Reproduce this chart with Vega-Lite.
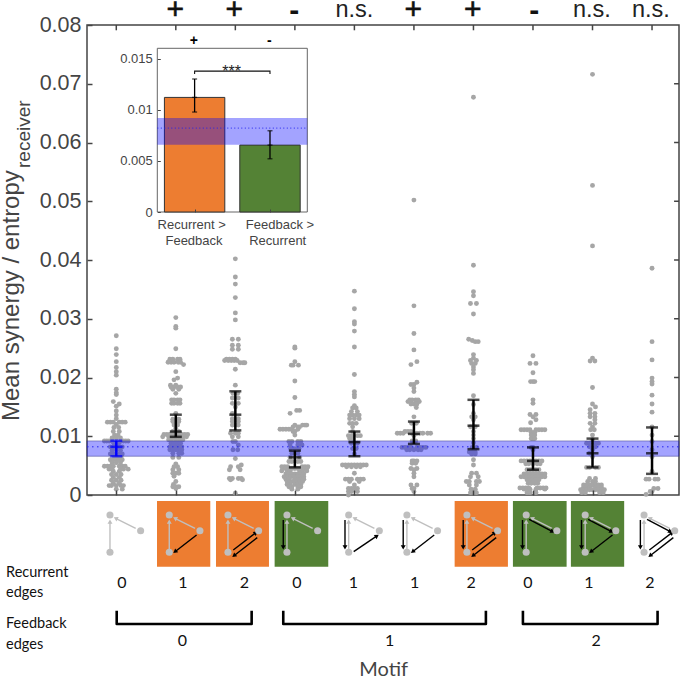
{"$schema":"https://vega.github.io/schema/vega-lite/v6.json","width":592,"height":470,"autosize":{"type":"none"},"padding":{"left":87,"top":25,"right":5,"bottom":185},"background":"white","config":{"view":{"stroke":"#444444","strokeWidth":1.5},"axis":{"grid":false}},
"datasets":{
"dots":[
{"x":1,"v":0.0271},{"x":1,"v":0.0249},{"x":1,"v":0.0239},{"x":1,"v":0.0227},{"x":1,"v":0.0217},{"x":1,"v":0.021},{"x":1,"v":0.0204},{"x":1,"v":0.018},{"x":1,"v":0.0174},{"x":1,"v":0.0171},{"x":0.95,"v":0.0159},{"x":1.05,"v":0.0155},{"x":1,"v":0.0151},{"x":1,"v":0.0143},{"x":1,"v":0.0136},{"x":1,"v":0.013},{"x":0.85,"v":0.0124},{"x":0.9,"v":0.0124},{"x":0.95,"v":0.0124},{"x":1.05,"v":0.0124},{"x":1.1,"v":0.0124},{"x":1.15,"v":0.0124},{"x":1,"v":0.012},{"x":0.96,"v":0.0115},{"x":1.04,"v":0.0115},{"x":0.95,"v":0.0108},{"x":1.05,"v":0.0108},{"x":0.97,"v":0.0102},{"x":1.03,"v":0.0102},{"x":0.93,"v":0.0097},{"x":1,"v":0.0097},{"x":1.07,"v":0.0097},{"x":0.8,"v":0.0092},{"x":0.84,"v":0.0092},{"x":0.88,"v":0.0092},{"x":0.92,"v":0.0092},{"x":1.08,"v":0.0092},{"x":1.12,"v":0.0092},{"x":1.16,"v":0.0092},{"x":1.2,"v":0.0092},{"x":0.96,"v":0.0088},{"x":1.04,"v":0.0088},{"x":0.9,"v":0.0082},{"x":0.95,"v":0.0082},{"x":1,"v":0.0082},{"x":1.05,"v":0.0082},{"x":1.1,"v":0.0082},{"x":0.93,"v":0.0076},{"x":1,"v":0.0076},{"x":1.07,"v":0.0076},{"x":0.9,"v":0.007},{"x":0.95,"v":0.007},{"x":1.05,"v":0.007},{"x":1.1,"v":0.007},{"x":0.97,"v":0.0065},{"x":1.03,"v":0.0065},{"x":1.08,"v":0.0065},{"x":0.9,"v":0.006},{"x":0.95,"v":0.006},{"x":1,"v":0.006},{"x":1.05,"v":0.006},{"x":1.1,"v":0.006},{"x":0.93,"v":0.0055},{"x":1,"v":0.0055},{"x":1.07,"v":0.0055},{"x":0.8,"v":0.0049},{"x":0.85,"v":0.0049},{"x":0.9,"v":0.0049},{"x":0.95,"v":0.0049},{"x":1.05,"v":0.0049},{"x":1.1,"v":0.0049},{"x":1.15,"v":0.0049},{"x":1.2,"v":0.0044},{"x":0.88,"v":0.0044},{"x":0.93,"v":0.0044},{"x":1.07,"v":0.0044},{"x":1.12,"v":0.0044},{"x":0.95,"v":0.004},{"x":1.05,"v":0.004},{"x":0.92,"v":0.0035},{"x":1,"v":0.0035},{"x":1.08,"v":0.0035},{"x":0.95,"v":0.003},{"x":1.05,"v":0.003},{"x":0.92,"v":0.0025},{"x":1,"v":0.0025},{"x":1.08,"v":0.0025},{"x":0.95,"v":0.002},{"x":1.05,"v":0.002},{"x":0.88,"v":0.0016},{"x":0.92,"v":0.0016},{"x":1,"v":0.0016},{"x":1.08,"v":0.0016},{"x":1.12,"v":0.0016},{"x":1,"v":0.001},{"x":1.1,"v":0.001},
{"x":2,"v":0.0302},{"x":2,"v":0.0287},{"x":2,"v":0.0284},{"x":2,"v":0.0249},{"x":1.9,"v":0.0231},{"x":1.95,"v":0.0231},{"x":2.03,"v":0.0231},{"x":2.07,"v":0.0231},{"x":1.87,"v":0.0226},{"x":1.92,"v":0.0226},{"x":1.97,"v":0.0226},{"x":2.04,"v":0.0226},{"x":2.08,"v":0.0226},{"x":2.13,"v":0.0222},{"x":2,"v":0.021},{"x":2.03,"v":0.0199},{"x":1.97,"v":0.0196},{"x":1.91,"v":0.0187},{"x":2,"v":0.0187},{"x":1.92,"v":0.0184},{"x":1.97,"v":0.0184},{"x":2.03,"v":0.0184},{"x":2.08,"v":0.0184},{"x":1.95,"v":0.018},{"x":2.05,"v":0.018},{"x":2,"v":0.0173},{"x":1.93,"v":0.0162},{"x":1.97,"v":0.0162},{"x":2.03,"v":0.0162},{"x":2.07,"v":0.0162},{"x":1.93,"v":0.0156},{"x":1.97,"v":0.0156},{"x":2.03,"v":0.0156},{"x":2.07,"v":0.0156},{"x":2,"v":0.0139},{"x":1.95,"v":0.0129},{"x":2.05,"v":0.0129},{"x":1.95,"v":0.0125},{"x":2,"v":0.0125},{"x":2.05,"v":0.0125},{"x":1.97,"v":0.0119},{"x":2.03,"v":0.0119},{"x":2,"v":0.0113},{"x":1.95,"v":0.0108},{"x":2.05,"v":0.0108},{"x":1.8,"v":0.0103},{"x":1.85,"v":0.0103},{"x":1.9,"v":0.0103},{"x":1.95,"v":0.0103},{"x":2,"v":0.0103},{"x":2.05,"v":0.0103},{"x":2.1,"v":0.0103},{"x":2.15,"v":0.0103},{"x":2.2,"v":0.0103},{"x":1.78,"v":0.0099},{"x":1.88,"v":0.0099},{"x":1.94,"v":0.0099},{"x":2,"v":0.0099},{"x":2.06,"v":0.0099},{"x":2.12,"v":0.0099},{"x":2.18,"v":0.0099},{"x":1.88,"v":0.0094},{"x":1.93,"v":0.0094},{"x":2,"v":0.0094},{"x":2.07,"v":0.0094},{"x":2.12,"v":0.0094},{"x":1.92,"v":0.0088},{"x":1.97,"v":0.0088},{"x":2.03,"v":0.0088},{"x":2.08,"v":0.0088},{"x":1.9,"v":0.0082},{"x":1.95,"v":0.0082},{"x":2,"v":0.0082},{"x":2.05,"v":0.0082},{"x":2.1,"v":0.0082},{"x":1.9,"v":0.0077},{"x":1.95,"v":0.0077},{"x":2,"v":0.0077},{"x":2.05,"v":0.0077},{"x":2.1,"v":0.0077},{"x":1.95,"v":0.0071},{"x":2.05,"v":0.0071},{"x":2.1,"v":0.0071},{"x":1.95,"v":0.0064},{"x":2.05,"v":0.0064},{"x":2,"v":0.0053},{"x":1.97,"v":0.0048},{"x":2.03,"v":0.0048},{"x":1.95,"v":0.0043},{"x":2.05,"v":0.0043},{"x":1.95,"v":0.0037},{"x":2,"v":0.0037},{"x":2.05,"v":0.0037},{"x":1.97,"v":0.0032},{"x":2,"v":0.0023},{"x":1.96,"v":0.0018},{"x":1.95,"v":0.0014},{"x":2,"v":0.0014},{"x":2.05,"v":0.0014},{"x":2,"v":0.0011},
{"x":3,"v":0.0402},{"x":3,"v":0.0371},{"x":3,"v":0.0359},{"x":3,"v":0.0336},{"x":3,"v":0.031},{"x":3,"v":0.0298},{"x":2.95,"v":0.0265},{"x":3.05,"v":0.0265},{"x":2.95,"v":0.0255},{"x":3.05,"v":0.0255},{"x":2.95,"v":0.0248},{"x":3.05,"v":0.0248},{"x":2.85,"v":0.0231},{"x":2.9,"v":0.0231},{"x":2.95,"v":0.0231},{"x":3,"v":0.0231},{"x":2.82,"v":0.0229},{"x":2.88,"v":0.0229},{"x":2.93,"v":0.0229},{"x":2.98,"v":0.0229},{"x":3.03,"v":0.0229},{"x":3.08,"v":0.0225},{"x":3.13,"v":0.0225},{"x":3.16,"v":0.0225},{"x":3,"v":0.0214},{"x":3,"v":0.0187},{"x":2.96,"v":0.0173},{"x":3.04,"v":0.0173},{"x":2.95,"v":0.0165},{"x":3.05,"v":0.0165},{"x":2.95,"v":0.0156},{"x":3.05,"v":0.0156},{"x":3,"v":0.015},{"x":2.95,"v":0.0139},{"x":2.95,"v":0.013},{"x":3.05,"v":0.013},{"x":2.95,"v":0.0125},{"x":3.05,"v":0.0125},{"x":2.95,"v":0.0119},{"x":3,"v":0.0119},{"x":3.05,"v":0.0119},{"x":2.92,"v":0.0105},{"x":3,"v":0.0105},{"x":3.05,"v":0.0105},{"x":2.95,"v":0.0099},{"x":3.05,"v":0.0099},{"x":2.96,"v":0.0091},{"x":3,"v":0.0091},{"x":3.05,"v":0.0085},{"x":2.96,"v":0.0077},{"x":3.04,"v":0.0077},{"x":3,"v":0.0062},{"x":3.1,"v":0.0051},{"x":2.92,"v":0.0048},{"x":3.05,"v":0.0048},{"x":2.9,"v":0.0043},{"x":3.08,"v":0.0043},{"x":2.9,"v":0.0028},{"x":2.95,"v":0.0028},{"x":3.05,"v":0.0028},{"x":3.1,"v":0.0028},{"x":2.92,"v":0.0026},{"x":3.12,"v":0.0026},{"x":3,"v":0.0003},
{"x":4,"v":0.0252},{"x":4,"v":0.025},{"x":4,"v":0.0227},{"x":3.94,"v":0.0221},{"x":3.97,"v":0.0221},{"x":4.06,"v":0.0221},{"x":4,"v":0.0194},{"x":4,"v":0.0166},{"x":4.03,"v":0.0144},{"x":4.08,"v":0.0144},{"x":3.92,"v":0.0139},{"x":4,"v":0.0119},{"x":4.13,"v":0.0119},{"x":4.17,"v":0.0119},{"x":4.2,"v":0.0119},{"x":3.97,"v":0.0116},{"x":4.05,"v":0.0116},{"x":4.08,"v":0.0116},{"x":3.75,"v":0.0112},{"x":3.8,"v":0.0112},{"x":3.85,"v":0.0112},{"x":3.9,"v":0.0112},{"x":3.95,"v":0.0112},{"x":4.05,"v":0.0112},{"x":3.97,"v":0.0108},{"x":4,"v":0.0108},{"x":4,"v":0.0102},{"x":3.9,"v":0.0091},{"x":3.95,"v":0.0091},{"x":4.05,"v":0.0091},{"x":4.1,"v":0.0091},{"x":3.92,"v":0.0085},{"x":4.05,"v":0.0085},{"x":4.12,"v":0.0085},{"x":3.93,"v":0.0079},{"x":4,"v":0.0079},{"x":4.07,"v":0.0079},{"x":3.95,"v":0.0071},{"x":4.05,"v":0.0071},{"x":3.92,"v":0.0064},{"x":4.08,"v":0.0064},{"x":3.9,"v":0.0057},{"x":3.95,"v":0.0057},{"x":4.05,"v":0.0057},{"x":4.1,"v":0.0057},{"x":3.78,"v":0.0048},{"x":3.83,"v":0.0048},{"x":3.88,"v":0.0048},{"x":4.12,"v":0.0048},{"x":4.17,"v":0.0048},{"x":4.22,"v":0.0048},{"x":3.8,"v":0.0045},{"x":3.85,"v":0.0045},{"x":3.9,"v":0.0045},{"x":3.95,"v":0.0045},{"x":4,"v":0.0045},{"x":4.05,"v":0.0045},{"x":4.1,"v":0.0045},{"x":4.15,"v":0.0045},{"x":4.2,"v":0.0045},{"x":3.78,"v":0.0041},{"x":3.87,"v":0.0041},{"x":3.92,"v":0.0041},{"x":4.08,"v":0.0041},{"x":4.13,"v":0.0041},{"x":4.2,"v":0.0041},{"x":3.85,"v":0.0036},{"x":3.9,"v":0.0036},{"x":3.95,"v":0.0036},{"x":4,"v":0.0036},{"x":4.05,"v":0.0036},{"x":4.1,"v":0.0036},{"x":4.15,"v":0.0036},{"x":3.82,"v":0.0031},{"x":3.87,"v":0.0031},{"x":3.93,"v":0.0031},{"x":3.98,"v":0.0031},{"x":4.05,"v":0.0031},{"x":4.1,"v":0.0031},{"x":4.15,"v":0.0031},{"x":3.85,"v":0.0027},{"x":3.9,"v":0.0027},{"x":4,"v":0.0027},{"x":4.05,"v":0.0027},{"x":4.1,"v":0.0027},{"x":4.15,"v":0.0027},{"x":3.87,"v":0.0023},{"x":3.92,"v":0.0023},{"x":3.97,"v":0.0023},{"x":4.03,"v":0.0023},{"x":4.08,"v":0.0023},{"x":4.13,"v":0.0023},{"x":3.87,"v":0.0018},{"x":3.92,"v":0.0018},{"x":4,"v":0.0018},{"x":4.05,"v":0.0018},{"x":4.1,"v":0.0018},{"x":3.9,"v":0.0014},{"x":3.95,"v":0.0014},{"x":4.05,"v":0.0014},{"x":4.1,"v":0.0014},{"x":3.95,"v":0.001},{"x":4.05,"v":0.001},
{"x":5,"v":0.0347},{"x":5,"v":0.0317},{"x":5,"v":0.0295},{"x":5,"v":0.0291},{"x":5,"v":0.0279},{"x":5,"v":0.0252},{"x":5,"v":0.0205},{"x":5,"v":0.0176},{"x":5,"v":0.0171},{"x":5,"v":0.0167},{"x":5,"v":0.0152},{"x":4.97,"v":0.0148},{"x":5.03,"v":0.0148},{"x":4.95,"v":0.0142},{"x":5.05,"v":0.0142},{"x":4.92,"v":0.0136},{"x":4.97,"v":0.0136},{"x":5.03,"v":0.0136},{"x":5.08,"v":0.0136},{"x":4.92,"v":0.013},{"x":5,"v":0.013},{"x":5.08,"v":0.013},{"x":4.92,"v":0.0122},{"x":4.97,"v":0.0122},{"x":5.03,"v":0.0122},{"x":4.97,"v":0.0116},{"x":4.97,"v":0.0108},{"x":4.9,"v":0.0101},{"x":4.95,"v":0.0101},{"x":5.05,"v":0.0101},{"x":5.1,"v":0.0101},{"x":4.92,"v":0.0096},{"x":4.97,"v":0.0096},{"x":4.95,"v":0.0088},{"x":5.05,"v":0.0088},{"x":4.97,"v":0.0079},{"x":5.03,"v":0.0079},{"x":5,"v":0.007},{"x":4.8,"v":0.0051},{"x":4.85,"v":0.0051},{"x":4.9,"v":0.0051},{"x":4.95,"v":0.0051},{"x":5,"v":0.0051},{"x":5.05,"v":0.0051},{"x":5.1,"v":0.0051},{"x":5.15,"v":0.0051},{"x":5.2,"v":0.0051},{"x":4.87,"v":0.0048},{"x":4.95,"v":0.0048},{"x":5.03,"v":0.0048},{"x":5.1,"v":0.0048},{"x":5,"v":0.0037},{"x":4.85,"v":0.0027},{"x":4.9,"v":0.0027},{"x":4.95,"v":0.0027},{"x":5.05,"v":0.0027},{"x":5.1,"v":0.0027},{"x":5.15,"v":0.0027},{"x":4.92,"v":0.0023},{"x":5.08,"v":0.0023},{"x":5,"v":0.0017},{"x":4.9,"v":0.0011},{"x":4.95,"v":0.0011},{"x":5,"v":0.0011},{"x":5.05,"v":0.0011},{"x":4.9,"v":0.0006},{"x":4.95,"v":0.0006},{"x":5.05,"v":0.0006},{"x":4.9,"v":0},
{"x":6,"v":0.0502},{"x":6,"v":0.0322},{"x":6,"v":0.0275},{"x":6,"v":0.0247},{"x":6.05,"v":0.0227},{"x":5.95,"v":0.0222},{"x":6.05,"v":0.0192},{"x":5.95,"v":0.0188},{"x":6,"v":0.0188},{"x":6,"v":0.0182},{"x":6,"v":0.0176},{"x":5.93,"v":0.0162},{"x":5.97,"v":0.0162},{"x":6.03,"v":0.0162},{"x":6.07,"v":0.0162},{"x":5.9,"v":0.0159},{"x":5.94,"v":0.0159},{"x":6.04,"v":0.0159},{"x":6.09,"v":0.0159},{"x":5.95,"v":0.0155},{"x":6,"v":0.0155},{"x":6.05,"v":0.0155},{"x":6.04,"v":0.0149},{"x":6,"v":0.0133},{"x":5.96,"v":0.0122},{"x":6.04,"v":0.0122},{"x":5.85,"v":0.0108},{"x":5.9,"v":0.0108},{"x":5.95,"v":0.0108},{"x":5.72,"v":0.0105},{"x":5.77,"v":0.0105},{"x":5.82,"v":0.0105},{"x":5.97,"v":0.0105},{"x":6.05,"v":0.0105},{"x":6.1,"v":0.0105},{"x":6.15,"v":0.0105},{"x":6.23,"v":0.0105},{"x":6.28,"v":0.0105},{"x":6,"v":0.0101},{"x":5.97,"v":0.0092},{"x":6,"v":0.0092},{"x":6.03,"v":0.0092},{"x":5.8,"v":0.0081},{"x":5.85,"v":0.0081},{"x":5.9,"v":0.0081},{"x":5.95,"v":0.0081},{"x":6.05,"v":0.0081},{"x":6.1,"v":0.0081},{"x":6.15,"v":0.0081},{"x":6.2,"v":0.0081},{"x":5.88,"v":0.0077},{"x":5.93,"v":0.0077},{"x":6,"v":0.0077},{"x":6.07,"v":0.0077},{"x":6.12,"v":0.0077},{"x":5.97,"v":0.0058},{"x":6,"v":0.0058},{"x":6.05,"v":0.0058},{"x":5.97,"v":0.0054},{"x":6.03,"v":0.0054},{"x":5.95,"v":0.0045},{"x":6.05,"v":0.0045},{"x":6,"v":0.0043},{"x":6,"v":0.0037},{"x":6,"v":0.0031},{"x":5.95,"v":0.0017},{"x":6.05,"v":0.0017},{"x":5.97,"v":0.0011},{"x":6,"v":0.0011},{"x":6,"v":0.0006},
{"x":7,"v":0.0677},{"x":7,"v":0.0391},{"x":7,"v":0.0346},{"x":7,"v":0.0339},{"x":6.95,"v":0.0326},{"x":7.05,"v":0.0326},{"x":7,"v":0.0308},{"x":6.92,"v":0.0265},{"x":6.98,"v":0.0263},{"x":7.03,"v":0.0261},{"x":7.08,"v":0.0261},{"x":7,"v":0.0239},{"x":7,"v":0.0233},{"x":6.95,"v":0.0229},{"x":7.05,"v":0.0229},{"x":6.97,"v":0.0224},{"x":7.03,"v":0.0224},{"x":7,"v":0.0218},{"x":7,"v":0.0213},{"x":7,"v":0.0207},{"x":7,"v":0.0169},{"x":7,"v":0.0154},{"x":7,"v":0.0139},{"x":6.97,"v":0.0133},{"x":7.03,"v":0.0133},{"x":7,"v":0.0128},{"x":6.95,"v":0.0116},{"x":7.03,"v":0.0116},{"x":7,"v":0.0108},{"x":7,"v":0.0102},{"x":7,"v":0.0096},{"x":7,"v":0.0089},{"x":6.98,"v":0.0081},{"x":7.05,"v":0.0081},{"x":6.93,"v":0.0073},{"x":6.98,"v":0.0073},{"x":7.03,"v":0.0073},{"x":6.97,"v":0.007},{"x":7.03,"v":0.007},{"x":7,"v":0.006},{"x":7,"v":0.0051},{"x":6.97,"v":0.0037},{"x":7.05,"v":0.0037},{"x":6.95,"v":0.0031},{"x":7.08,"v":0.0031},{"x":6.88,"v":0.0023},{"x":6.93,"v":0.0023},{"x":7.05,"v":0.0023},{"x":7.1,"v":0.0023},{"x":6.93,"v":0.0017},{"x":7.05,"v":0.0017},{"x":6.96,"v":0.001},{"x":7.03,"v":0.001},{"x":6.95,"v":0.0004},{"x":7,"v":0.0004},{"x":7.05,"v":0.0004},
{"x":8,"v":0.0237},{"x":7.95,"v":0.0224},{"x":8.05,"v":0.0224},{"x":8,"v":0.0208},{"x":7.96,"v":0.0193},{"x":8,"v":0.0193},{"x":8.03,"v":0.0193},{"x":8,"v":0.0162},{"x":8,"v":0.0156},{"x":7.95,"v":0.0137},{"x":8.05,"v":0.0137},{"x":8,"v":0.0133},{"x":8.05,"v":0.0128},{"x":7.96,"v":0.0123},{"x":7.8,"v":0.0111},{"x":7.85,"v":0.0111},{"x":7.9,"v":0.0111},{"x":7.95,"v":0.0111},{"x":8.05,"v":0.0111},{"x":8.1,"v":0.0111},{"x":8.15,"v":0.0111},{"x":8.2,"v":0.0111},{"x":7.97,"v":0.0107},{"x":8.03,"v":0.0107},{"x":7.97,"v":0.0102},{"x":8.03,"v":0.0102},{"x":7.97,"v":0.0096},{"x":8,"v":0.0096},{"x":8.03,"v":0.0096},{"x":7.97,"v":0.0081},{"x":8,"v":0.0081},{"x":8,"v":0.0077},{"x":7.8,"v":0.0058},{"x":7.85,"v":0.0058},{"x":7.9,"v":0.0058},{"x":7.95,"v":0.0058},{"x":8.05,"v":0.0058},{"x":8.1,"v":0.0058},{"x":8.15,"v":0.0058},{"x":7.88,"v":0.0053},{"x":7.93,"v":0.0053},{"x":8,"v":0.0053},{"x":8.07,"v":0.0053},{"x":8.12,"v":0.0053},{"x":7.9,"v":0.0043},{"x":7.95,"v":0.0043},{"x":8,"v":0.0043},{"x":8.05,"v":0.0043},{"x":8.1,"v":0.0043},{"x":7.85,"v":0.0036},{"x":7.9,"v":0.0036},{"x":7.95,"v":0.0036},{"x":8,"v":0.0036},{"x":8.05,"v":0.0036},{"x":8.1,"v":0.0036},{"x":8.15,"v":0.0036},{"x":8.2,"v":0.0036},{"x":7.8,"v":0.0031},{"x":7.85,"v":0.0031},{"x":7.9,"v":0.0031},{"x":7.95,"v":0.0031},{"x":8,"v":0.0031},{"x":8.05,"v":0.0031},{"x":8.1,"v":0.0031},{"x":8.15,"v":0.0031},{"x":8.2,"v":0.0031},{"x":7.9,"v":0.0026},{"x":7.95,"v":0.0026},{"x":8,"v":0.0026},{"x":8.05,"v":0.0026},{"x":8.1,"v":0.0026},{"x":7.92,"v":0.002},{"x":7.97,"v":0.002},{"x":8.03,"v":0.002},{"x":8.08,"v":0.002},{"x":7.78,"v":0.0012},{"x":7.83,"v":0.0012},{"x":7.88,"v":0.0012},{"x":7.93,"v":0.0012},{"x":8.07,"v":0.0012},{"x":8.12,"v":0.0012},{"x":8.17,"v":0.0012},{"x":8.22,"v":0.0012},{"x":7.85,"v":0.001},{"x":7.9,"v":0.001},{"x":7.95,"v":0.001},{"x":8.05,"v":0.001},{"x":8.2,"v":0.001},{"x":7.9,"v":0.0004},{"x":7.95,"v":0.0004},{"x":8.05,"v":0.0004},
{"x":9,"v":0.0716},{"x":9,"v":0.0527},{"x":9,"v":0.0424},{"x":9,"v":0.0233},{"x":8.96,"v":0.0228},{"x":9.04,"v":0.0228},{"x":9,"v":0.0183},{"x":9,"v":0.0155},{"x":9.05,"v":0.015},{"x":8.96,"v":0.0145},{"x":8.96,"v":0.0139},{"x":9.04,"v":0.0139},{"x":8.96,"v":0.0133},{"x":9.04,"v":0.0133},{"x":9.04,"v":0.0128},{"x":8.96,"v":0.0122},{"x":9.04,"v":0.0122},{"x":9,"v":0.0116},{"x":8.97,"v":0.0111},{"x":9.03,"v":0.0111},{"x":9,"v":0.0102},{"x":9,"v":0.0094},{"x":8.9,"v":0.0088},{"x":8.95,"v":0.0088},{"x":9.05,"v":0.0088},{"x":9.1,"v":0.0088},{"x":8.95,"v":0.0082},{"x":9.05,"v":0.0082},{"x":9,"v":0.0077},{"x":8.95,"v":0.0071},{"x":9,"v":0.0065},{"x":8.9,"v":0.0047},{"x":8.95,"v":0.0047},{"x":9.05,"v":0.0047},{"x":9.1,"v":0.0047},{"x":8.95,"v":0.0028},{"x":9.05,"v":0.0028},{"x":8.92,"v":0.0023},{"x":9,"v":0.0023},{"x":9.05,"v":0.0023},{"x":8.85,"v":0.0017},{"x":8.9,"v":0.0017},{"x":8.95,"v":0.0017},{"x":9,"v":0.0017},{"x":9.05,"v":0.0017},{"x":9.1,"v":0.0017},{"x":9.15,"v":0.0017},{"x":8.85,"v":0.0013},{"x":8.9,"v":0.0013},{"x":8.95,"v":0.0013},{"x":9.05,"v":0.0013},{"x":9.1,"v":0.0013},{"x":9.15,"v":0.0013},{"x":8.8,"v":0.0009},{"x":8.85,"v":0.0009},{"x":8.9,"v":0.0009},{"x":8.95,"v":0.0009},{"x":9,"v":0.0009},{"x":9.05,"v":0.0009},{"x":9.1,"v":0.0009},{"x":9.15,"v":0.0009},{"x":9.2,"v":0.0009},{"x":8.82,"v":0.0004},{"x":8.88,"v":0.0004},{"x":9.12,"v":0.0004},{"x":9.18,"v":0.0004},
{"x":10,"v":0.0386},{"x":10,"v":0.0261},{"x":10,"v":0.023},{"x":10,"v":0.0199},{"x":10,"v":0.0193},{"x":10,"v":0.0189},{"x":10,"v":0.017},{"x":10,"v":0.0155},{"x":10,"v":0.0141},{"x":10,"v":0.0116},{"x":10,"v":0.0102},{"x":10,"v":0.0091},{"x":10,"v":0.0077},{"x":10,"v":0.0065},{"x":10,"v":0.004},{"x":9.9,"v":0.0027},{"x":9.95,"v":0.0027},{"x":10.05,"v":0.0027},{"x":10.1,"v":0.0027},{"x":10.03,"v":0.0011},{"x":10.1,"v":0.0011},{"x":9.97,"v":0.0006},{"x":10,"v":0.0006},{"x":9.9,"v":0.0001}
],
"err":[{"x":1,"v":0.0082,"lo":0.0066,"hi":0.00925,"c":"baseline"},{"x":2,"v":0.0108,"lo":0.0099,"hi":0.01367,"c":"motif"},{"x":3,"v":0.01367,"lo":0.011,"hi":0.01765,"c":"motif"},{"x":4,"v":0.0064,"lo":0.0047,"hi":0.00755,"c":"motif"},{"x":5,"v":0.009,"lo":0.0066,"hi":0.0108,"c":"motif"},{"x":6,"v":0.0104,"lo":0.0087,"hi":0.0125,"c":"motif"},{"x":7,"v":0.0118,"lo":0.0078,"hi":0.0162,"c":"motif"},{"x":8,"v":0.0058,"lo":0.0043,"hi":0.0081,"c":"motif"},{"x":9,"v":0.0071,"lo":0.0047,"hi":0.0096,"c":"motif"},{"x":10,"v":0.0071,"lo":0.0036,"hi":0.0115,"c":"motif"}],
"band":[{"x":0.508,"x2":10.453,"v":0.0066,"v2":0.0092,"m":0.0082}],
"topTicks":[{"x":1,"v":0.0791,"v2":0.08},{"x":2,"v":0.0791,"v2":0.08},{"x":3,"v":0.0791,"v2":0.08},{"x":4,"v":0.0791,"v2":0.08},{"x":5,"v":0.0791,"v2":0.08},{"x":6,"v":0.0791,"v2":0.08},{"x":7,"v":0.0791,"v2":0.08},{"x":8,"v":0.0791,"v2":0.08},{"x":9,"v":0.0791,"v2":0.08},{"x":10,"v":0.0791,"v2":0.08}],
"rightTicks":[{"x":10.37,"x2":10.453,"v":0.01},{"x":10.37,"x2":10.453,"v":0.02},{"x":10.37,"x2":10.453,"v":0.03},{"x":10.37,"x2":10.453,"v":0.04},{"x":10.37,"x2":10.453,"v":0.05},{"x":10.37,"x2":10.453,"v":0.06},{"x":10.37,"x2":10.453,"v":0.07}],
"sigNs":[{"x":5,"v":0.0814,"t":"n.s."},{"x":8.99,"v":0.0814,"t":"n.s."},{"x":9.98,"v":0.0814,"t":"n.s."}],
"sigPlus":[{"x":1.99,"v":0.08097,"t":"+"},{"x":2.98,"v":0.08097,"t":"+"},{"x":5.99,"v":0.08097,"t":"+"},{"x":6.99,"v":0.08097,"t":"+"}],
"sigMinus":[{"x":3.99,"v":0.08079,"t":"-"},{"x":8.02,"v":0.08079,"t":"-"}],
"tiles":[{"x":1.684,"x2":2.579,"v":-0.00102,"v2":-0.0122,"c":"recurrent"},{"x":2.675,"x2":3.565,"v":-0.00102,"v2":-0.0122,"c":"recurrent"},{"x":3.66,"x2":4.561,"v":-0.00102,"v2":-0.0122,"c":"feedback"},{"x":6.684,"x2":7.579,"v":-0.00102,"v2":-0.0122,"c":"recurrent"},{"x":7.663,"x2":8.565,"v":-0.00102,"v2":-0.0122,"c":"feedback"},{"x":8.637,"x2":9.532,"v":-0.00102,"v2":-0.0122,"c":"feedback"}],
"edgesGray":[
{"x":0.894,"x2":0.894,"v":-0.00919,"v2":-0.00454,"a":0},{"x":1.89,"x2":1.89,"v":-0.00919,"v2":-0.00454,"a":0},{"x":2.876,"x2":2.876,"v":-0.00919,"v2":-0.00454,"a":0},{"x":3.867,"x2":3.867,"v":-0.00919,"v2":-0.00454,"a":0},{"x":4.904,"x2":4.904,"v":-0.00919,"v2":-0.00454,"a":0},{"x":5.882,"x2":5.882,"v":-0.00919,"v2":-0.00454,"a":0},{"x":6.89,"x2":6.89,"v":-0.00919,"v2":-0.00454,"a":0},{"x":7.886,"x2":7.886,"v":-0.00919,"v2":-0.00454,"a":0},{"x":8.877,"x2":8.877,"v":-0.00919,"v2":-0.00454,"a":0},{"x":9.866,"x2":9.866,"v":-0.00919,"v2":-0.00454,"a":0},
{"x":1.326,"x2":0.99,"v":-0.00566,"v2":-0.00396,"a":297},{"x":2.322,"x2":1.986,"v":-0.00566,"v2":-0.00396,"a":297},{"x":3.308,"x2":2.972,"v":-0.00566,"v2":-0.00396,"a":297},{"x":4.299,"x2":3.963,"v":-0.00566,"v2":-0.00396,"a":297},{"x":5.336,"x2":5,"v":-0.00566,"v2":-0.00396,"a":297},{"x":6.314,"x2":5.978,"v":-0.00566,"v2":-0.00396,"a":297},{"x":7.322,"x2":6.986,"v":-0.00566,"v2":-0.00396,"a":297},{"x":8.318,"x2":7.982,"v":-0.00566,"v2":-0.00396,"a":297},{"x":9.309,"x2":8.973,"v":-0.00566,"v2":-0.00396,"a":297},{"x":10.298,"x2":9.962,"v":-0.00566,"v2":-0.00396,"a":297}],
"edgesBlack":[
{"x":3.805,"x2":3.805,"v":-0.00425,"v2":-0.0089,"a":180},{"x":4.842,"x2":4.842,"v":-0.00425,"v2":-0.0089,"a":180},{"x":5.82,"x2":5.82,"v":-0.00425,"v2":-0.0089,"a":180},{"x":6.828,"x2":6.828,"v":-0.00425,"v2":-0.0089,"a":180},{"x":7.824,"x2":7.824,"v":-0.00425,"v2":-0.0089,"a":180},{"x":8.815,"x2":8.815,"v":-0.00425,"v2":-0.0089,"a":180},{"x":9.804,"x2":9.804,"v":-0.00425,"v2":-0.0089,"a":180},
{"x":2.349,"x2":1.986,"v":-0.0068,"v2":-0.00965,"a":232},{"x":6.341,"x2":5.978,"v":-0.0068,"v2":-0.00965,"a":232},{"x":9.336,"x2":8.973,"v":-0.0068,"v2":-0.00965,"a":232},
{"x":4.988,"x2":5.379,"v":-0.00965,"v2":-0.00697,"a":56},
{"x":2.965,"x2":3.346,"v":-0.00936,"v2":-0.00641,"a":53},{"x":3.368,"x2":2.977,"v":-0.00726,"v2":-0.01033,"a":232},{"x":6.979,"x2":7.36,"v":-0.00936,"v2":-0.00641,"a":53},{"x":7.382,"x2":6.991,"v":-0.00726,"v2":-0.01033,"a":232},{"x":9.955,"x2":10.336,"v":-0.00936,"v2":-0.00641,"a":53},{"x":10.358,"x2":9.967,"v":-0.00726,"v2":-0.01033,"a":232},
{"x":7.936,"x2":8.328,"v":-0.00413,"v2":-0.00624,"a":118},{"x":8.927,"x2":9.319,"v":-0.00413,"v2":-0.00624,"a":118},{"x":9.916,"x2":10.308,"v":-0.00413,"v2":-0.00624,"a":118}],
"nodes":[
{"x":0.894,"v":-0.0034},{"x":0.894,"v":-0.00975},{"x":1.409,"v":-0.00608},{"x":1.89,"v":-0.0034},{"x":1.89,"v":-0.00975},{"x":2.405,"v":-0.00608},{"x":2.876,"v":-0.0034},{"x":2.876,"v":-0.00975},{"x":3.391,"v":-0.00608},{"x":3.867,"v":-0.0034},{"x":3.867,"v":-0.00975},{"x":4.382,"v":-0.00608},{"x":4.904,"v":-0.0034},{"x":4.904,"v":-0.00975},{"x":5.419,"v":-0.00608},{"x":5.882,"v":-0.0034},{"x":5.882,"v":-0.00975},{"x":6.397,"v":-0.00608},{"x":6.89,"v":-0.0034},{"x":6.89,"v":-0.00975},{"x":7.405,"v":-0.00608},{"x":7.886,"v":-0.0034},{"x":7.886,"v":-0.00975},{"x":8.401,"v":-0.00608},{"x":8.877,"v":-0.0034},{"x":8.877,"v":-0.00975},{"x":9.392,"v":-0.00608},{"x":9.866,"v":-0.0034},{"x":9.866,"v":-0.00975},{"x":10.381,"v":-0.00608}],
"recurrentCounts":[{"x":1.096,"v":-0.01492,"t":"0"},{"x":2.12,"v":-0.01492,"t":"1"},{"x":3.15,"v":-0.01492,"t":"2"},{"x":4.035,"v":-0.01492,"t":"0"},{"x":4.981,"v":-0.01492,"t":"1"},{"x":6.012,"v":-0.01492,"t":"1"},{"x":6.963,"v":-0.01492,"t":"2"},{"x":7.915,"v":-0.01492,"t":"0"},{"x":8.939,"v":-0.01492,"t":"1"},{"x":9.964,"v":-0.01492,"t":"2"}],
"feedbackCounts":[{"x":2.109,"v":-0.0248,"t":"0"},{"x":5.592,"v":-0.0248,"t":"1"},{"x":9.062,"v":-0.0248,"t":"2"}],
"rowLabels":[{"x":-0.852,"v":-0.01322,"t":"Recurrent"},{"x":-0.852,"v":-0.01673,"t":"edges"},{"x":-0.852,"v":-0.02201,"t":"Feedback"},{"x":-0.852,"v":-0.02553,"t":"edges"}],
"brackets":[{"b":0,"o":0,"x":1.007,"v":-0.01969},{"b":0,"o":1,"x":1.007,"v":-0.02196},{"b":0,"o":2,"x":3.274,"v":-0.02196},{"b":0,"o":3,"x":3.274,"v":-0.01969},{"b":1,"o":0,"x":3.805,"v":-0.01969},{"b":1,"o":1,"x":3.805,"v":-0.02196},{"b":1,"o":2,"x":7.209,"v":-0.02196},{"b":1,"o":3,"x":7.209,"v":-0.01969},{"b":2,"o":0,"x":7.831,"v":-0.01969},{"b":2,"o":1,"x":7.831,"v":-0.02196},{"b":2,"o":2,"x":10.093,"v":-0.02196},{"b":2,"o":3,"x":10.093,"v":-0.01969}],
"insetFrame":[{"p":0.505,"p2":2.495,"s":0,"s2":0.016}],
"insetBars":[{"p":1,"s":0.0112,"lo":0.00977,"hi":0.013,"c":"recurrent"},{"p":2,"s":0.00654,"lo":0.0052,"hi":0.00794,"c":"feedback"}],
"insetBand":[{"p":0.505,"p2":2.495,"s":0.00657,"s2":0.00918,"m":0.0082}],
"insetBracket":[{"o":0,"p":1,"s":0.0135},{"o":1,"p":1,"s":0.01377},{"o":2,"p":2,"s":0.01377},{"o":3,"p":2,"s":0.0135}],
"insetLabels":[{"p":0.962,"s":-0.00127,"t":"Recurrent >"},{"p":0.992,"s":-0.00283,"t":"Feedback"},{"p":2.133,"s":-0.00127,"t":"Feedback >"},{"p":2.102,"s":-0.00283,"t":"Recurrent"}],
"insetSigns":[{"p":0.99,"s":0.01673,"t":"+"},{"p":1.99,"s":0.01673,"t":"-"}]
},
"layer":[
{"encoding":{
"x":{"field":"x","type":"quantitative","scale":{"domain":[0.508,10.453],"nice":false,"zero":false},"axis":{"values":[1,2,3,4,5,6,7,8,9,10],"labels":false,"title":null,"tickSize":-5,"tickColor":"#444444","tickWidth":1.5,"domain":false,"zindex":1}},
"y":{"field":"v","type":"quantitative","scale":{"domain":[0,0.08],"nice":false,"zero":false},"axis":{"values":[0,0.01,0.02,0.03,0.04,0.05,0.06,0.07,0.08],"format":".2~f","title":null,"tickSize":-5,"tickColor":"#444444","tickWidth":1.5,"domain":false,"labelFont":"Liberation Sans","labelFontSize":21.5,"labelColor":"#444444","labelPadding":11,"zindex":1}}},
"layer":[
{"data":{"name":"dots"},"mark":{"type":"circle","size":24,"color":"#a6a6a6","opacity":1}},
{"data":{"name":"band"},"mark":{"type":"rect","color":"#0000ff","fillOpacity":0.36,"stroke":"#3c3c8c","strokeOpacity":0.5,"strokeWidth":1},"encoding":{"x2":{"field":"x2"},"y2":{"field":"v2"}}},
{"data":{"name":"band"},"mark":{"type":"rule","color":"#2222ee","strokeWidth":1,"strokeDash":[1.5,3.5]},"encoding":{"y":{"field":"m"},"x2":{"field":"x2"}}},
{"data":{"name":"err"},"mark":{"type":"rule","strokeWidth":2.5},"encoding":{"y":{"field":"lo"},"y2":{"field":"hi"},"color":{"field":"c","type":"nominal","legend":null,"scale":{"domain":["baseline","motif","recurrent","feedback"],"range":["#0000ff","#000000","#ed7d31","#548235"]}}}},
{"data":{"name":"err"},"mark":{"type":"tick","orient":"horizontal","size":12,"thickness":2.5},"encoding":{"y":{"field":"lo"},"color":{"field":"c","type":"nominal","legend":null}}},
{"data":{"name":"err"},"mark":{"type":"tick","orient":"horizontal","size":12,"thickness":2.5},"encoding":{"y":{"field":"hi"},"color":{"field":"c","type":"nominal","legend":null}}},
{"data":{"name":"err"},"mark":{"type":"tick","orient":"horizontal","size":12,"thickness":2.5},"encoding":{"color":{"field":"c","type":"nominal","legend":null}}},
{"data":{"name":"topTicks"},"mark":{"type":"rule","color":"#444444","strokeWidth":1.5},"encoding":{"y2":{"field":"v2"}}},
{"data":{"name":"rightTicks"},"mark":{"type":"rule","color":"#444444","strokeWidth":1.5},"encoding":{"x2":{"field":"x2"}}},
{"data":{"name":"sigNs"},"mark":{"type":"text","font":"Liberation Sans","fontSize":23.5,"color":"#222222","baseline":"alphabetic"},"encoding":{"text":{"field":"t"}}},
{"data":{"name":"sigPlus"},"mark":{"type":"text","font":"Liberation Sans","fontSize":30,"color":"#111111","stroke":"#111111","strokeWidth":0.6,"baseline":"alphabetic"},"encoding":{"text":{"field":"t"}}},
{"data":{"name":"sigMinus"},"mark":{"type":"text","font":"Liberation Sans","fontWeight":"bold","fontSize":30,"color":"#111111","baseline":"alphabetic"},"encoding":{"text":{"field":"t"}}},
{"data":{"values":[{"x":-0.642,"v":0.0126,"t":"Mean synergy / entropy"}]},"mark":{"type":"text","font":"Liberation Sans","fontSize":24,"color":"#444444","angle":270,"align":"left","baseline":"alphabetic"},"encoding":{"text":{"field":"t"}}},
{"data":{"values":[{"x":-0.45,"v":0.05566,"t":"receiver"}]},"mark":{"type":"text","font":"Liberation Sans","fontSize":19,"color":"#444444","angle":270,"align":"left","baseline":"alphabetic"},"encoding":{"text":{"field":"t"}}},
{"data":{"name":"tiles"},"mark":{"type":"rect"},"encoding":{"y2":{"field":"v2"},"x2":{"field":"x2"},"color":{"field":"c","type":"nominal","legend":null}}},
{"data":{"name":"edgesGray"},"mark":{"type":"rule","color":"#bfbfbf","strokeWidth":1.4},"encoding":{"x2":{"field":"x2"},"y2":{"field":"v2"}}},
{"data":{"name":"edgesGray"},"mark":{"type":"point","shape":"triangle-up","filled":true,"color":"#bfbfbf","size":24,"opacity":1},"encoding":{"x":{"field":"x2"},"y":{"field":"v2"},"angle":{"field":"a","type":"quantitative","scale":null}}},
{"data":{"name":"edgesBlack"},"mark":{"type":"rule","color":"#000000","strokeWidth":1.4},"encoding":{"x2":{"field":"x2"},"y2":{"field":"v2"}}},
{"data":{"name":"edgesBlack"},"mark":{"type":"point","shape":"triangle-up","filled":true,"color":"#000000","size":24,"opacity":1},"encoding":{"x":{"field":"x2"},"y":{"field":"v2"},"angle":{"field":"a","type":"quantitative","scale":null}}},
{"data":{"name":"nodes"},"mark":{"type":"circle","size":50,"color":"#bfbfbf","opacity":1}},
{"data":{"name":"recurrentCounts"},"mark":{"type":"text","font":"Lato","fontSize":16,"color":"#111111","baseline":"middle"},"encoding":{"text":{"field":"t"}}},
{"data":{"name":"rowLabels"},"mark":{"type":"text","font":"Lato","fontSize":14.5,"color":"#111111","baseline":"middle","align":"left"},"encoding":{"text":{"field":"t"}}},
{"data":{"name":"brackets"},"mark":{"type":"line","color":"#000000","strokeWidth":2.6,"strokeJoin":"round"},"encoding":{"detail":{"field":"b"},"order":{"field":"o"}}},
{"data":{"name":"feedbackCounts"},"mark":{"type":"text","font":"Lato","fontSize":16,"color":"#111111","baseline":"middle"},"encoding":{"text":{"field":"t"}}},
{"data":{"values":[{"x":5.491,"v":-0.02979,"t":"Motif"}]},"mark":{"type":"text","font":"Lato","fontSize":20,"color":"#444444","baseline":"middle"},"encoding":{"text":{"field":"t"}}}
]},
{"encoding":{
"x":{"field":"p","type":"quantitative","scale":{"domain":[0.505,2.495],"nice":false,"zero":false,"padding":0,"range":[70.3,220.3]},"axis":{"orient":"bottom","offset":-283,"values":[1,2],"labels":false,"title":null,"tickSize":-3,"tickColor":"#444444","domain":false,"zindex":1}},
"y":{"field":"s","type":"quantitative","scale":{"domain":[0,0.016],"nice":false,"zero":false,"range":[187,23.3]},"axis":{"orient":"left","offset":-70.3,"values":[0,0.005,0.01,0.015],"format":".3~f","title":null,"tickSize":-3,"tickColor":"#444444","domain":false,"labelFont":"Liberation Sans","labelFontSize":13,"labelColor":"#444444","labelPadding":8,"zindex":1}}},
"layer":[
{"data":{"name":"insetFrame"},"mark":{"type":"rect","fill":"white","stroke":"#666666","strokeWidth":1},"encoding":{"x2":{"field":"p2"},"y2":{"field":"s2"}}},
{"data":{"name":"insetBars"},"mark":{"type":"bar","size":60.4,"orient":"vertical","stroke":"#333333","strokeWidth":1},"encoding":{"color":{"field":"c","type":"nominal","legend":null}}},
{"data":{"name":"insetBand"},"mark":{"type":"rect","color":"#0000ff","fillOpacity":0.36,"strokeWidth":0},"encoding":{"x2":{"field":"p2"},"y2":{"field":"s2"}}},
{"data":{"name":"insetBand"},"mark":{"type":"rule","color":"#2222ee","strokeWidth":1,"strokeDash":[1,2.5]},"encoding":{"y":{"field":"m"},"x2":{"field":"p2"}}},
{"data":{"name":"insetBars"},"mark":{"type":"rule","color":"#000000","strokeWidth":1.3},"encoding":{"y":{"field":"lo"},"y2":{"field":"hi"}}},
{"data":{"name":"insetBars"},"mark":{"type":"tick","orient":"horizontal","size":5,"thickness":1.3,"color":"#000000"},"encoding":{"y":{"field":"lo"}}},
{"data":{"name":"insetBars"},"mark":{"type":"tick","orient":"horizontal","size":5,"thickness":1.3,"color":"#000000"},"encoding":{"y":{"field":"hi"}}},
{"data":{"name":"insetBars"},"mark":{"type":"tick","orient":"horizontal","size":5,"thickness":1.3,"color":"#000000"}},
{"data":{"name":"insetBracket"},"mark":{"type":"line","color":"#111111","strokeWidth":1.1},"encoding":{"order":{"field":"o"}}},
{"data":{"values":[{"p":1.492,"s":0.01315,"t":"***"}]},"mark":{"type":"text","font":"Liberation Sans","fontSize":16,"color":"#222222","baseline":"alphabetic"},"encoding":{"text":{"field":"t"}}},
{"data":{"name":"insetLabels"},"mark":{"type":"text","font":"Liberation Sans","fontSize":13,"color":"#444444","baseline":"middle"},"encoding":{"text":{"field":"t"}}},
{"data":{"name":"insetSigns"},"mark":{"type":"text","font":"Liberation Sans","fontWeight":"bold","fontSize":14,"color":"#000000","baseline":"middle"},"encoding":{"text":{"field":"t"}}}
]}
],
"resolve":{"scale":{"x":"independent","y":"independent"},"axis":{"x":"independent","y":"independent"}}
}
